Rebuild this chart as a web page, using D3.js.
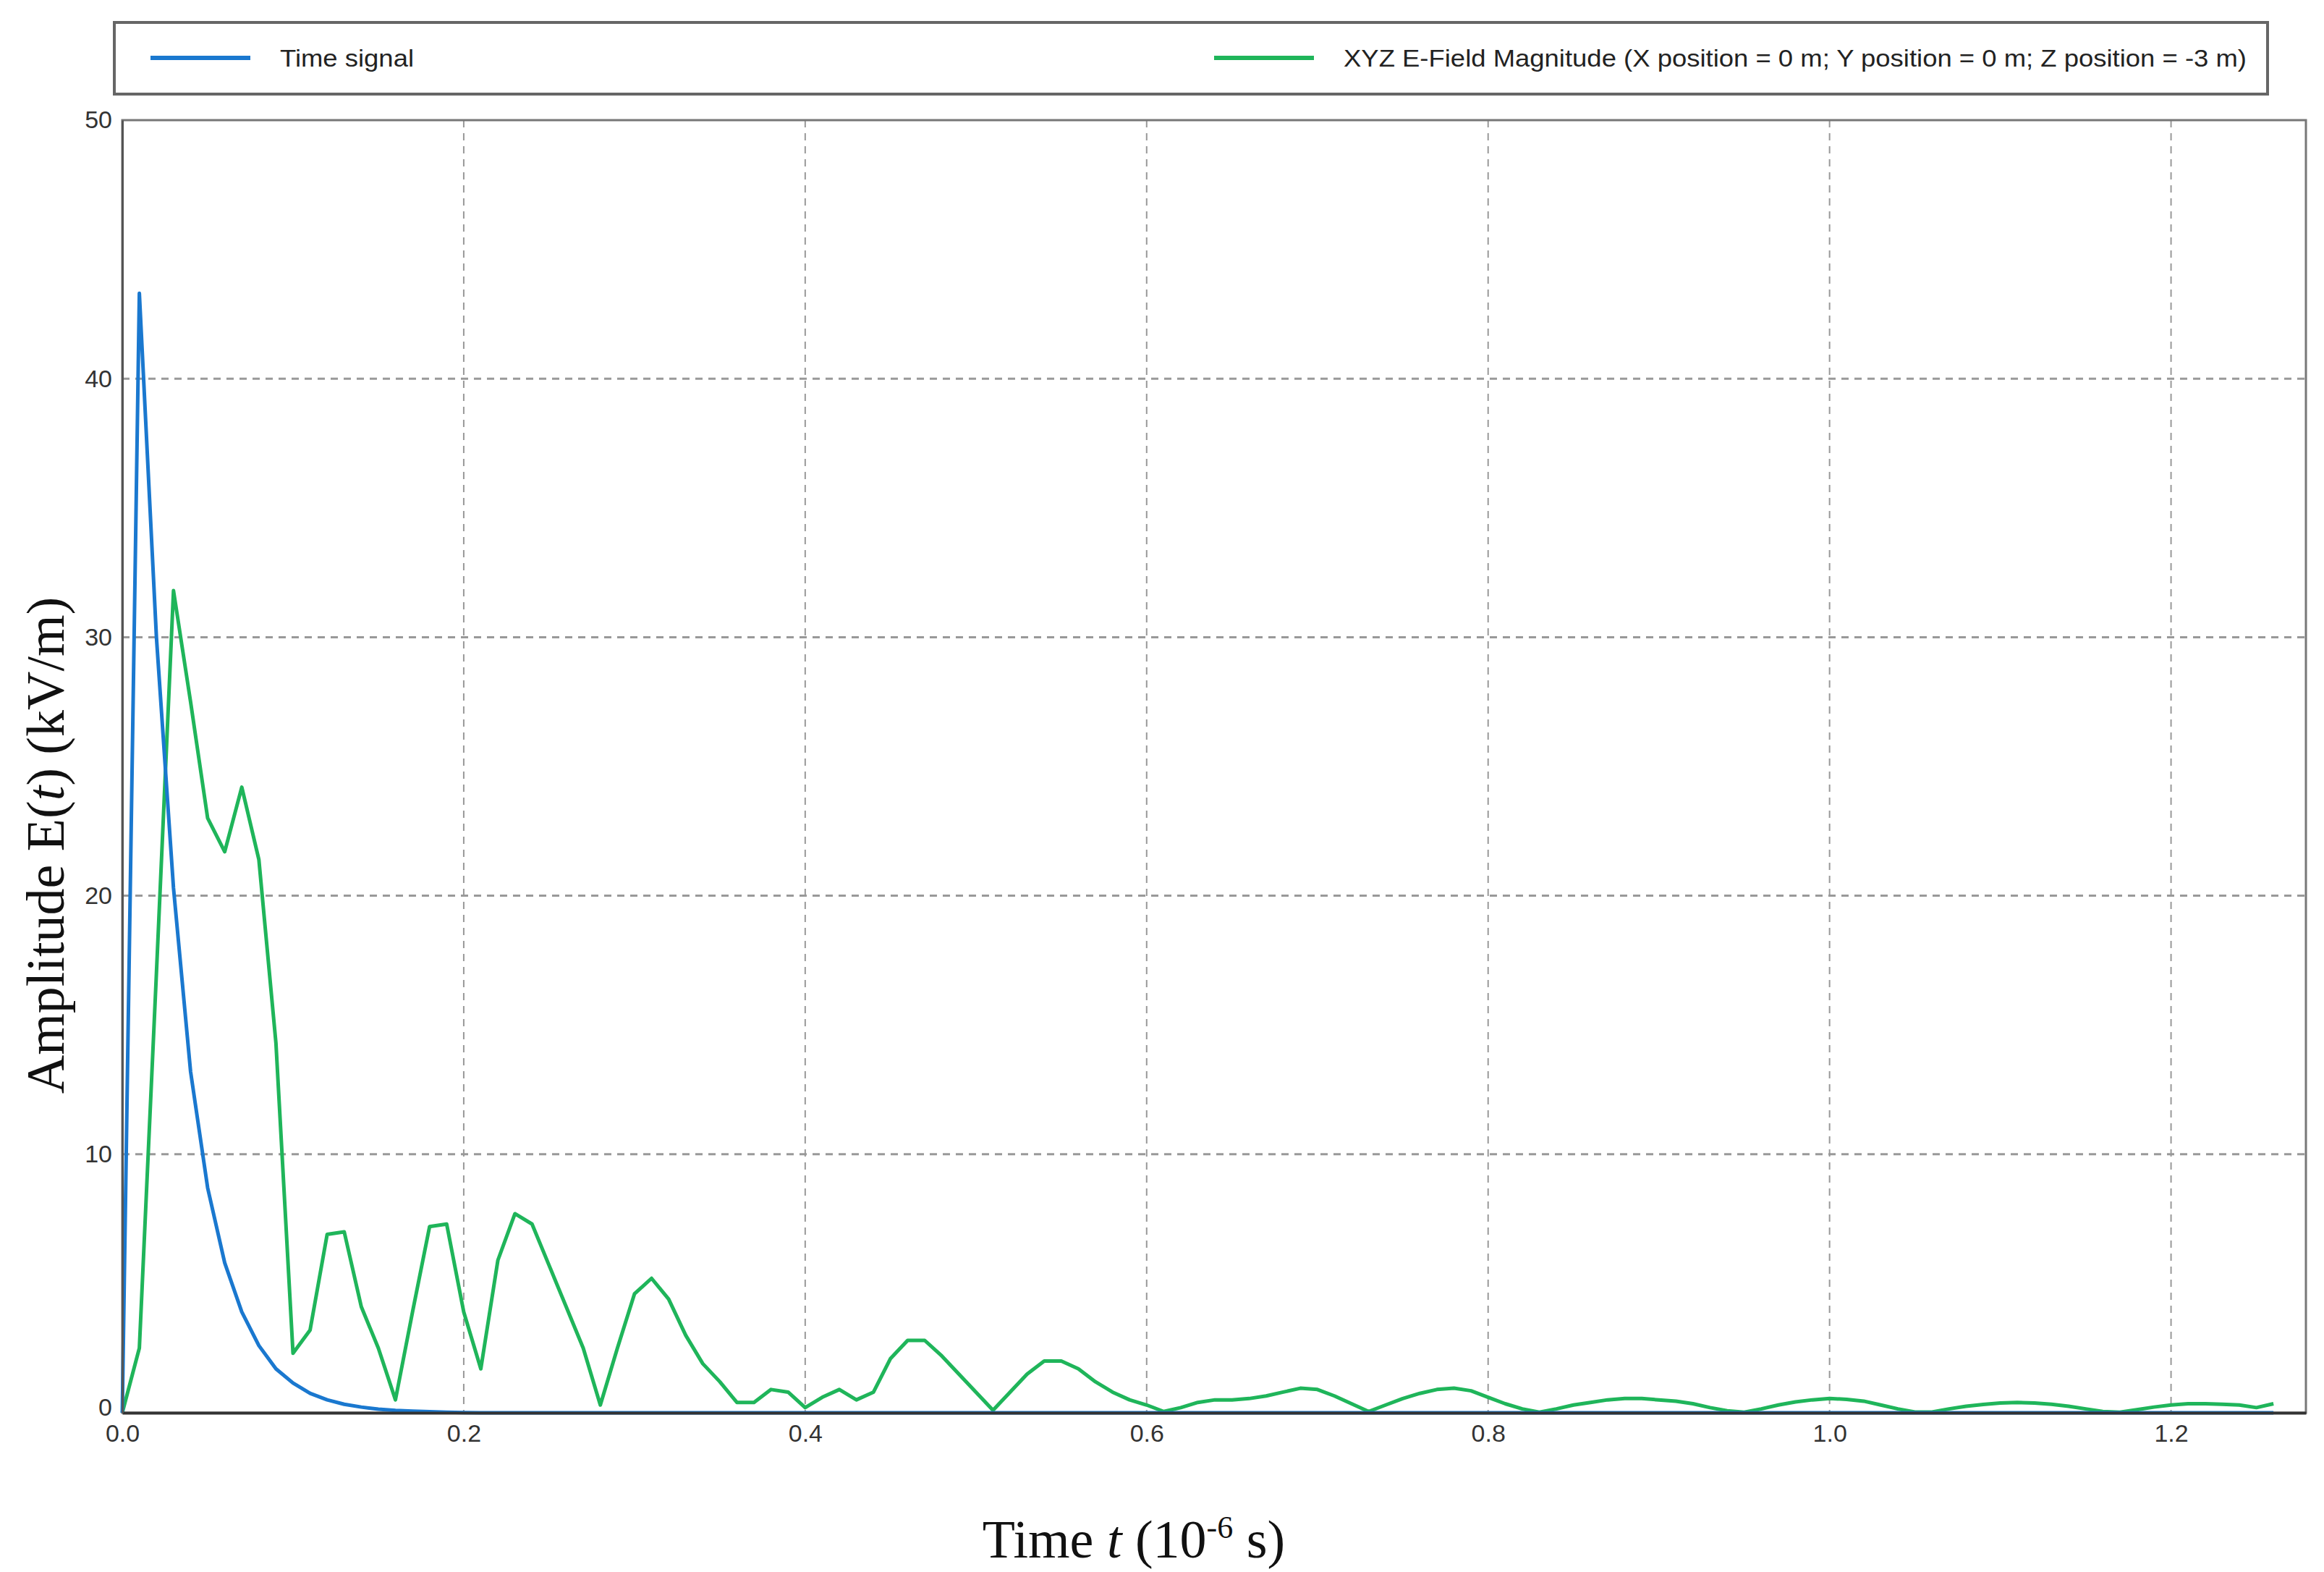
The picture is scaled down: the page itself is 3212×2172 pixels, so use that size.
<!DOCTYPE html>
<html>
<head>
<meta charset="utf-8">
<script src="https://cdn.jsdelivr.net/npm/d3@7"></script>
<style>
  body { margin: 0; background: #fff; }
  .tick text { font-family: "Liberation Sans Narrow", "Arial Narrow", "Liberation Sans", sans-serif; font-size: 34px; fill: #333; }
  .leg { font-family: "Liberation Sans Narrow", "Arial Narrow", "Liberation Sans", sans-serif; font-size: 34px; fill: #222; }
  .title { font-family: "Liberation Serif", "DejaVu Serif", serif; font-size: 74px; fill: #111; }
</style>
</head>
<body>
<script>
// time step 0.01 (10^-6 s)
var timeSignal = [0, 43.3, 30, 20.3, 13.2, 8.7, 5.8, 3.9, 2.6, 1.7, 1.15, 0.75, 0.5, 0.33, 0.22, 0.14, 0.09, 0.06, 0.04, 0.02, 0.01, 0, 0];
var eField = [0, 2.5, 17, 31.8, 27.5, 23, 21.7, 24.2, 21.4, 14.3,
  2.3, 3.2, 6.9, 7.0, 4.1, 2.5, 0.5, 3.9, 7.2, 7.3,
  3.9, 1.7, 5.9, 7.7, 7.3, 5.7, 4.1, 2.5, 0.3, 2.5,
  4.6, 5.2, 4.4, 3.0, 1.9, 1.2, 0.4, 0.4, 0.9, 0.8,
  0.2, 0.6, 0.9, 0.5, 0.8, 2.1, 2.8, 2.8, 2.2, 1.5,
  0.8, 0.1, 0.8, 1.5, 2.0, 2.0, 1.7, 1.2, 0.8, 0.5,
  0.3, 0.05, 0.2, 0.4, 0.5, 0.5, 0.55, 0.65, 0.8, 0.95,
  0.9, 0.65, 0.35, 0.05, 0.3, 0.55, 0.75, 0.9, 0.95, 0.85,
  0.6, 0.35, 0.15, 0.02, 0.15, 0.3, 0.4, 0.5, 0.55, 0.55,
  0.5, 0.45, 0.35, 0.2, 0.08, 0.02, 0.15, 0.3, 0.42, 0.5,
  0.55, 0.52, 0.45, 0.3, 0.15, 0.03, 0.03, 0.15, 0.25, 0.32,
  0.38, 0.4, 0.38, 0.33, 0.25, 0.15, 0.05, 0.02, 0.12, 0.22,
  0.3, 0.35, 0.35, 0.33, 0.3, 0.2, 0.35];
var xTicks = [0, 0.2, 0.4, 0.6, 0.8, 1.0, 1.2];
var yTicks = [0, 10, 20, 30, 40, 50];
var legendLabels = ["Time signal", "XYZ E-Field Magnitude (X position = 0 m; Y position = 0 m; Z position = -3 m)"];
var colors = ["#1a78cf", "#1fb55a"];
var dt = 0.01;

var W = 3212, H = 2172;
var m = {left: 169, top: 166, right: 3187, bottom: 1952};
var svg = d3.select("body").append("svg").attr("width", W).attr("height", H);

var x = d3.scaleLinear().domain([0, 1.279]).range([m.left, m.right]);
var y = d3.scaleLinear().domain([0, 50]).range([m.bottom, m.top]);

// grid
svg.append("g").selectAll("line").data(xTicks.slice(1)).enter().append("line")
  .attr("x1", d => x(d)).attr("x2", d => x(d)).attr("y1", m.top).attr("y2", m.bottom)
  .attr("stroke", "#999").attr("stroke-width", 2).attr("stroke-dasharray", "10,8");
svg.append("g").selectAll("line").data(yTicks.slice(1, -1)).enter().append("line")
  .attr("y1", d => y(d)).attr("y2", d => y(d)).attr("x1", m.left).attr("x2", m.right)
  .attr("stroke", "#999").attr("stroke-width", 3).attr("stroke-dasharray", "10,8");

// frame
svg.append("rect").attr("x", m.left).attr("y", m.top)
  .attr("width", m.right - m.left).attr("height", m.bottom - m.top)
  .attr("fill", "none").attr("stroke", "#777").attr("stroke-width", 3);

var line = d3.line().x((d, i) => x(i * dt)).y(d => y(d));
svg.append("path").datum(eField).attr("d", line).attr("fill", "none")
  .attr("stroke", colors[1]).attr("stroke-width", 5).attr("stroke-linejoin", "round");
svg.append("path").datum(timeSignal.concat(d3.range(eField.length - timeSignal.length).map(() => 0)))
  .attr("d", line).attr("fill", "none")
  .attr("stroke", colors[0]).attr("stroke-width", 5).attr("stroke-linejoin", "round");

// axes
var xa = svg.append("g").attr("transform", "translate(0," + m.bottom + ")")
  .call(d3.axisBottom(x).tickValues(xTicks).tickFormat(d3.format(".1f")).tickSize(0).tickPadding(16));
xa.select(".domain").attr("stroke", "#333").attr("stroke-width", 4);
var ya = svg.append("g").attr("transform", "translate(" + m.left + ",0)")
  .call(d3.axisLeft(y).tickValues(yTicks).tickSize(0).tickPadding(14));
ya.select(".domain").attr("stroke", "#555").attr("stroke-width", 3);
ya.selectAll(".tick text").attr("dy", "0.32em");
ya.selectAll(".tick").filter(d => d === 0).select("text").attr("dy", "0.1em");

// legend
svg.append("rect").attr("x", 158).attr("y", 31).attr("width", 2976).attr("height", 99)
  .attr("fill", "#fff").attr("stroke", "#666").attr("stroke-width", 4);
var lx = [208, 1678], tx = [387, 1857], tl = [185, 1248];
legendLabels.forEach(function (t, i) {
  svg.append("line").attr("x1", lx[i]).attr("x2", lx[i] + 138).attr("y1", 80).attr("y2", 80)
    .attr("stroke", colors[i]).attr("stroke-width", 6);
  svg.append("text").attr("class", "leg").attr("x", tx[i]).attr("y", 92)
    .attr("textLength", tl[i]).attr("lengthAdjust", "spacingAndGlyphs").text(t);
});

// axis titles
var xt = svg.append("text").attr("class", "title").attr("x", 1567).attr("y", 2152).attr("text-anchor", "middle");
xt.append("tspan").text("Time ");
xt.append("tspan").attr("font-style", "italic").text("t");
xt.append("tspan").text(" (10");
xt.append("tspan").attr("font-size", "44px").attr("dy", "-27").text("-6");
xt.append("tspan").attr("dy", "27").text(" s)");

var yt = svg.append("text").attr("class", "title")
  .attr("transform", "translate(88,1168) rotate(-90)").attr("text-anchor", "middle");
yt.append("tspan").text("Amplitude E(");
yt.append("tspan").attr("font-style", "italic").text("t");
yt.append("tspan").text(") (kV/m)");
</script>
</body>
</html>
